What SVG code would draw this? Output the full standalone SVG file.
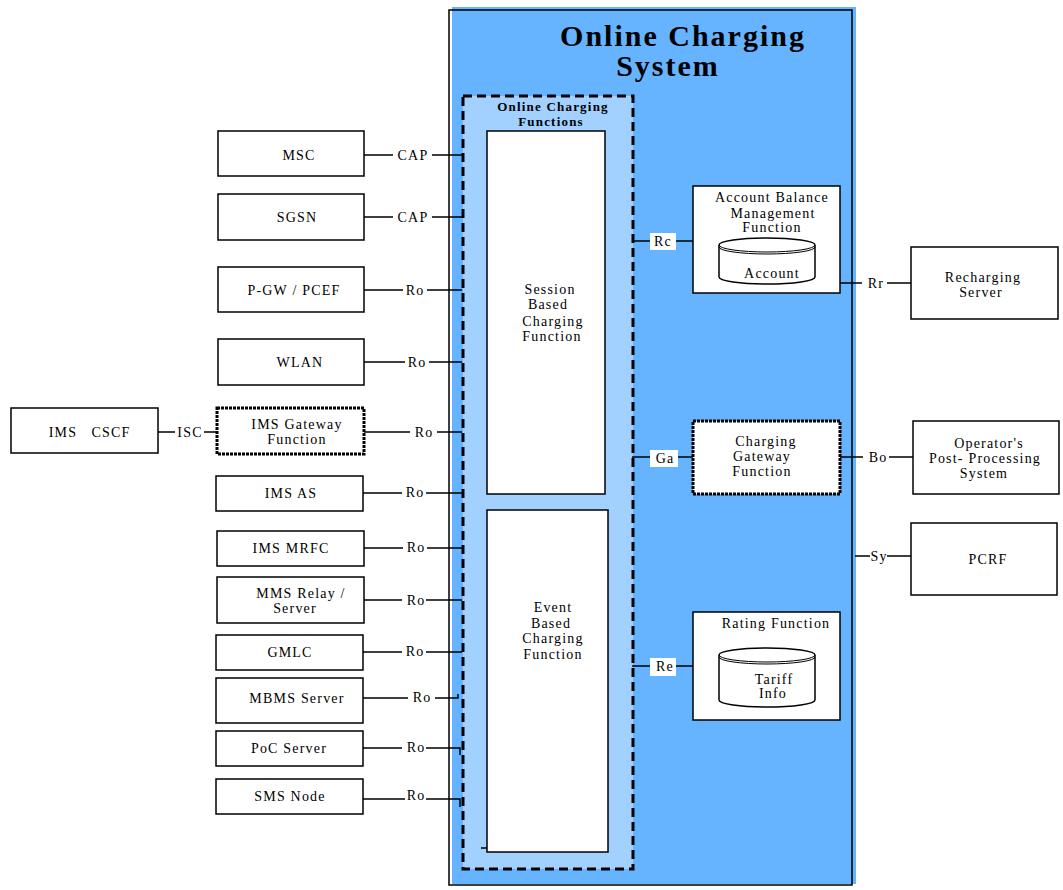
<svg xmlns="http://www.w3.org/2000/svg" width="1063" height="890" viewBox="0 0 1063 890">
<style>
.n{fill:#fff;stroke:#000;stroke-width:1.5}
.nd{fill:#fff;stroke:#000;stroke-width:3;stroke-dasharray:3 1}
.t{font-family:"Liberation Serif","Times New Roman",serif;font-size:14px;letter-spacing:1.2px;text-anchor:middle;fill:#000}
.c{stroke:#000;stroke-width:1.5;fill:none}
.lb{fill:#fff}
</style>
<rect width="1063" height="890" fill="#fff"/>
<g id="ocs">
<rect x="452" y="7" width="404" height="877" fill="#66B3FF"/>
<rect x="449" y="10" width="403" height="875" fill="none" stroke="#000" stroke-width="1.5"/>
<text x="683" y="46" font-family="Liberation Serif,serif" font-size="30" letter-spacing="2" font-weight="bold" text-anchor="middle">Online Charging</text>
<text x="668" y="76" font-family="Liberation Serif,serif" font-size="30" letter-spacing="2" font-weight="bold" text-anchor="middle">System</text>
</g>
<g id="ocf">
<rect x="463" y="96" width="170" height="773" fill="#A2D0FF" stroke="#000" stroke-width="3" stroke-dasharray="9 5"/>
<text x="553" y="111" class="t" font-size="13" font-weight="bold" style="font-size:13px">Online Charging</text>
<text x="551" y="126" class="t" font-weight="bold" style="font-size:13px">Functions</text>
</g>
<g id="sbcf">
<rect x="487" y="131" width="118" height="363" class="n"/>
<text class="t" x="550" y="294">Session</text>
<text class="t" x="548" y="309">Based</text>
<text class="t" x="553" y="326">Charging</text>
<text class="t" x="552" y="341">Function</text>
</g>
<g id="ebcf">
<rect x="487" y="510" width="121" height="342" class="n"/>
<text class="t" x="553" y="612">Event</text>
<text class="t" x="551" y="628">Based</text>
<text class="t" x="553" y="643">Charging</text>
<text class="t" x="553" y="659">Function</text>
</g>
<g id="connectors">
<path class="c" d="M364 155H393M432 155H462"/>
<path class="c" d="M364 217H393M432 217H462"/>
<path class="c" d="M364 290H403M427 290H462"/>
<path class="c" d="M364 362H405M429 362H462"/>
<path class="c" d="M158 432H175M204 432H217"/>
<path class="c" d="M364 432H410M437 432H462"/>
<path class="c" d="M363 493H402M426 493H462"/>
<path class="c" d="M364 548H403M427 548H462"/>
<path class="c" d="M364 600H402M426 600H462"/>
<path class="c" d="M363 652H402M426 652H462"/>
<path class="c" d="M363 698H408M435 698H458V694"/>
<path class="c" d="M363 748H402M426 748H460V755"/>
<path class="c" d="M363 799H405M426 799H460V807"/>
<path class="c" d="M481 848H487"/>
<path class="c" d="M632 241H693"/>
<path class="c" d="M632 457H693"/>
<path class="c" d="M632 666H693"/>
<path class="c" d="M840 283H862M887 283H911"/>
<path class="c" d="M840 457H863M889 457H913"/>
<path class="c" d="M855 556H870M887 556H911"/>
<rect x="650" y="233" width="26" height="17" class="lb"/>
<rect x="650" y="450" width="28" height="17" class="lb"/>
<rect x="650" y="658" width="26" height="18" class="lb"/>
<text class="t" x="413" y="160">CAP</text>
<text class="t" x="413" y="222">CAP</text>
<text class="t" x="415" y="295">Ro</text>
<text class="t" x="417" y="367">Ro</text>
<text class="t" x="190" y="437">ISC</text>
<text class="t" x="424" y="437">Ro</text>
<text class="t" x="415" y="497">Ro</text>
<text class="t" x="416" y="552">Ro</text>
<text class="t" x="416" y="605">Ro</text>
<text class="t" x="415" y="656">Ro</text>
<text class="t" x="422" y="702">Ro</text>
<text class="t" x="416" y="752">Ro</text>
<text class="t" x="416" y="800">Ro</text>
<text class="t" x="663" y="246">Rc</text>
<text class="t" x="665" y="463">Ga</text>
<text class="t" x="665" y="671">Re</text>
<text class="t" x="876" y="288">Rr</text>
<text class="t" x="878" y="462">Bo</text>
<text class="t" x="879" y="561">Sy</text>
</g>
<g id="msc"><rect x="218" y="131" width="146" height="45" class="n"/><text class="t" x="299" y="160">MSC</text></g>
<g id="sgsn"><rect x="218" y="194" width="146" height="46" class="n"/><text class="t" x="297" y="222">SGSN</text></g>
<g id="pgw"><rect x="218" y="267" width="146" height="45" class="n"/><text class="t" x="294" y="295">P-GW / PCEF</text></g>
<g id="wlan"><rect x="218" y="339" width="146" height="46" class="n"/><text class="t" x="300" y="367">WLAN</text></g>
<g id="cscf"><rect x="11" y="408" width="147" height="45" class="n"/><text class="t" x="63" y="437">IMS</text><text class="t" x="111" y="437">CSCF</text></g>
<g id="imsgw"><rect x="217" y="408" width="147" height="46" class="nd"/><text class="t" x="297" y="429">IMS Gateway</text><text class="t" x="297" y="444">Function</text></g>
<g id="imsas"><rect x="216" y="476" width="147" height="35" class="n"/><text class="t" x="291" y="498">IMS AS</text></g>
<g id="mrfc"><rect x="217" y="531" width="147" height="35" class="n"/><text class="t" x="291" y="553">IMS MRFC</text></g>
<g id="mms"><rect x="217" y="577" width="147" height="46" class="n"/><text class="t" x="301" y="598">MMS Relay /</text><text class="t" x="295" y="613">Server</text></g>
<g id="gmlc"><rect x="216" y="635" width="147" height="35" class="n"/><text class="t" x="290" y="657">GMLC</text></g>
<g id="mbms"><rect x="216" y="678" width="147" height="45" class="n"/><text class="t" x="297" y="703">MBMS Server</text></g>
<g id="poc"><rect x="216" y="731" width="147" height="35" class="n"/><text class="t" x="289" y="753">PoC Server</text></g>
<g id="sms"><rect x="216" y="779" width="147" height="35" class="n"/><text class="t" x="290" y="801">SMS Node</text></g>
<g id="abmf">
<rect x="693" y="186" width="147" height="107" class="n"/>
<text class="t" x="772" y="202">Account Balance</text>
<text class="t" x="773" y="218">Management</text>
<text class="t" x="772" y="232">Function</text>
<path d="M719 245V277A48 7 0 0 0 815 277V245A48 7 0 0 0 719 245Z" fill="#fff" stroke="#000" stroke-width="1.5"/>
<path d="M719 245A48 7 0 0 0 815 245M719 247A48 7 0 0 0 815 247" fill="none" stroke="#000" stroke-width="1"/>
<text class="t" x="772" y="278">Account</text>
</g>
<g id="cgf">
<rect x="693" y="421" width="147" height="73" class="nd"/>
<text class="t" x="766" y="446">Charging</text>
<text class="t" x="762" y="461">Gateway</text>
<text class="t" x="762" y="476">Function</text>
</g>
<g id="rf">
<rect x="693" y="612" width="147" height="108" class="n"/>
<text class="t" x="776" y="628">Rating Function</text>
<path d="M719 655V700A48 7 0 0 0 815 700V655A48 7 0 0 0 719 655Z" fill="#fff" stroke="#000" stroke-width="1.5"/>
<path d="M719 655A48 7 0 0 0 815 655M719 657A48 7 0 0 0 815 657" fill="none" stroke="#000" stroke-width="1"/>
<text class="t" x="774" y="684">Tariff</text>
<text class="t" x="773" y="698">Info</text>
</g>
<g id="recharging"><rect x="911" y="247" width="147" height="72" class="n"/><text class="t" x="983" y="282">Recharging</text><text class="t" x="981" y="297">Server</text></g>
<g id="opps"><rect x="913" y="421" width="146" height="73" class="n"/><text class="t" x="989" y="448">Operator's</text><text class="t" x="985" y="463">Post- Processing</text><text class="t" x="984" y="478">System</text></g>
<g id="pcrf"><rect x="911" y="523" width="146" height="72" class="n"/><text class="t" x="988" y="564">PCRF</text></g>
</svg>
